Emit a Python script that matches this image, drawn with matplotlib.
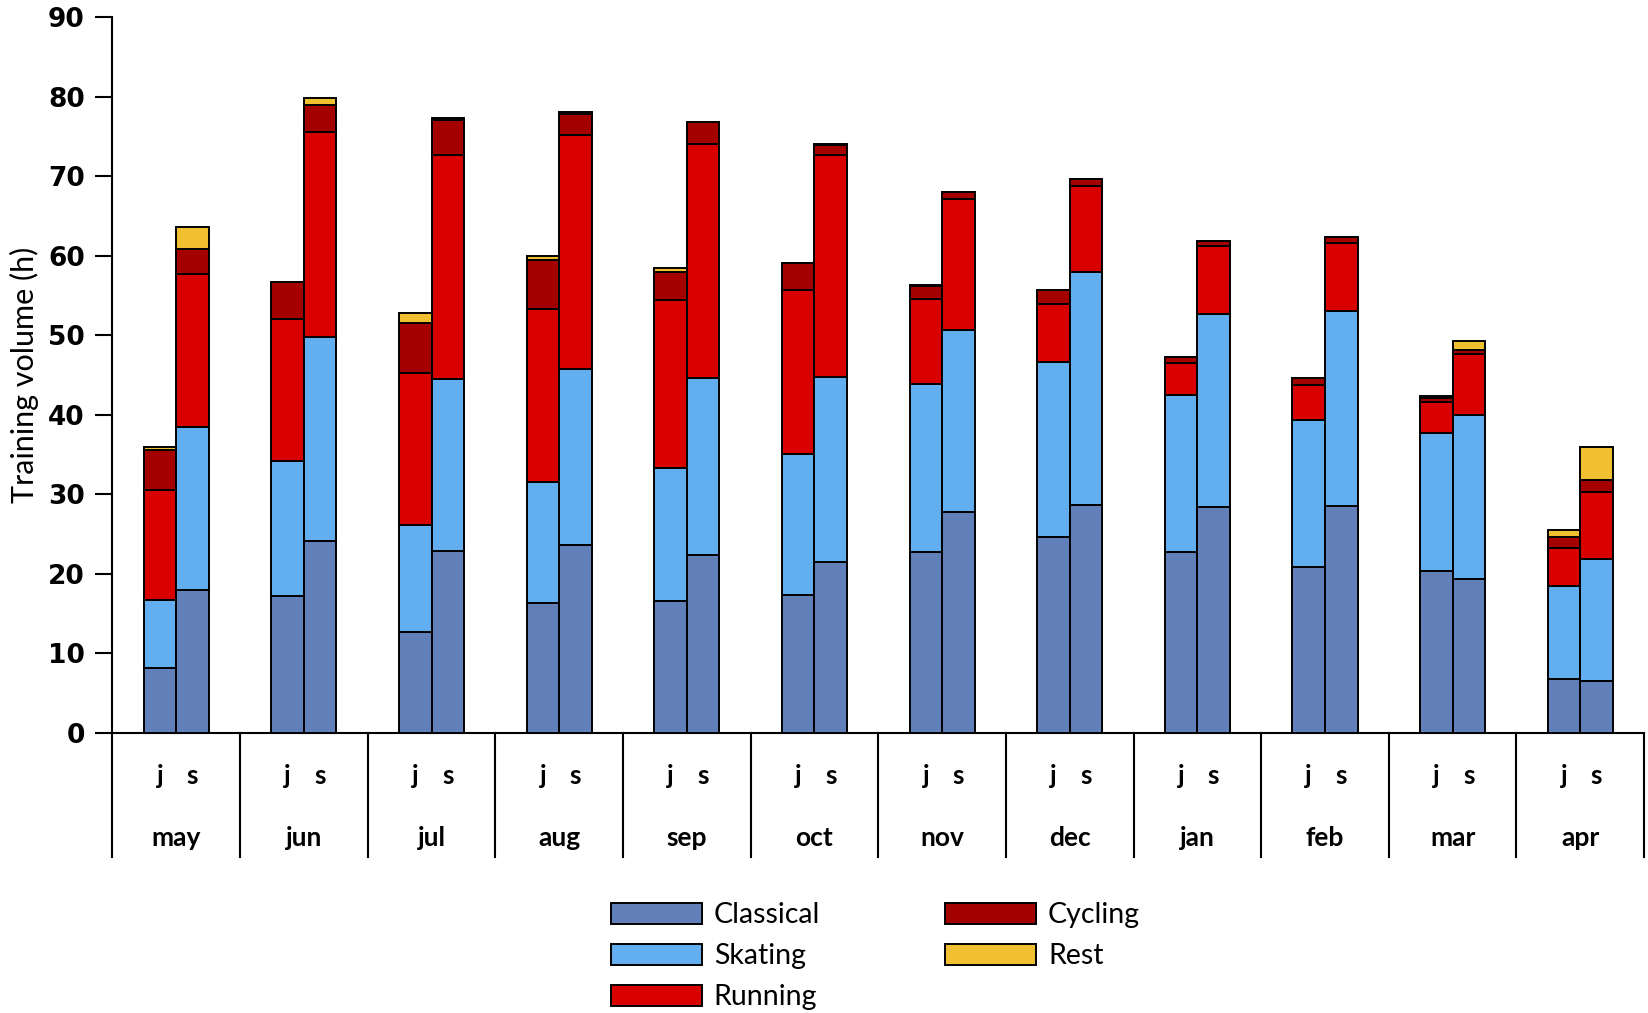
import numpy as np
import matplotlib
matplotlib.use('Agg')
import matplotlib.pyplot as plt
from matplotlib.patches import Patch

plt.rcParams['font.family'] = ['Lato', 'DejaVu Sans']

# ------------------------------------------------------------
# data (hours), j / s per month
# ------------------------------------------------------------
months = ['may', 'jun', 'jul', 'aug', 'sep', 'oct', 'nov', 'dec', 'jan', 'feb', 'mar', 'apr']
groups = ['j', 's']
categories = ['Classical', 'Skating', 'Running', 'Cycling', 'Rest']

classical_j = [8.2, 17.2, 12.7, 16.4, 16.6, 17.4, 22.8, 24.6, 22.75, 20.9, 20.35, 6.8]
skating_j = [8.5, 17.0, 13.4, 15.1, 16.7, 17.7, 21.1, 22.0, 19.8, 18.5, 17.35, 11.7]
running_j = [13.8, 17.9, 19.1, 21.8, 21.1, 20.6, 10.7, 7.3, 4.0, 4.3, 3.9, 4.7]
cycling_j = [5.1, 4.55, 6.4, 6.1, 3.6, 3.4, 1.65, 1.8, 0.75, 0.95, 0.45, 1.45]
rest_j = [0.35, 0.1, 1.2, 0.6, 0.4, 0.0, 0.1, 0.0, 0.0, 0.0, 0.35, 0.9]

classical_s = [18.0, 24.1, 22.9, 23.6, 22.35, 21.5, 27.75, 28.7, 28.4, 28.55, 19.3, 6.6]
skating_s = [20.5, 25.7, 21.6, 22.2, 22.3, 23.3, 22.9, 29.2, 24.3, 24.5, 20.7, 15.25]
running_s = [19.2, 25.7, 28.1, 29.4, 29.4, 27.9, 16.45, 10.8, 8.55, 8.5, 7.7, 8.4]
cycling_s = [3.2, 3.5, 4.4, 2.6, 2.7, 1.2, 0.9, 1.0, 0.6, 0.8, 0.4, 1.55]
rest_s = [2.7, 0.8, 0.3, 0.25, 0.1, 0.1, 0.0, 0.0, 0.0, 0.0, 1.2, 4.2]

colors = ['#6180BA', '#63AEEE', '#D90000', '#A50000', '#F0C030']

series_j = [classical_j, skating_j, running_j, cycling_j, rest_j]
series_s = [classical_s, skating_s, running_s, cycling_s, rest_s]

# ------------------------------------------------------------
# figure
# ------------------------------------------------------------
fig = plt.figure(figsize=(16.49, 10.13), dpi=100)
ax = fig.add_axes([0.0682, 0.2764, 0.9288, 0.7068])

x = np.arange(len(months))
w = 0.255
for offs, series in [(-w / 2, series_j), (w / 2, series_s)]:
    bottom = np.zeros(len(months))
    for vals, col in zip(series, colors):
        vals = np.array(vals)
        ax.bar(x + offs, vals, w, bottom=bottom, color=col,
               edgecolor='black', linewidth=1.4, zorder=3)
        bottom += vals

ax.set_xlim(-0.5, len(months) - 0.5)
ax.set_ylim(0, 90)
ax.set_yticks(np.arange(0, 91, 10))
ax.tick_params(axis='y', direction='out', length=12, width=1.5, pad=8,
               labelsize=19)
for lb in ax.get_yticklabels():
    lb.set_fontweight('bold')
    lb.set_family('DejaVu Sans')
ax.set_xticks([])
ax.spines['top'].set_visible(False)
ax.spines['right'].set_visible(False)
ax.spines['left'].set_linewidth(1.5)
ax.spines['bottom'].set_linewidth(1.5)
ax.set_ylabel('Training volume (h)', fontsize=22, labelpad=6)

# two-level category axis
tr = ax.get_xaxis_transform()
for b in np.arange(-0.5, len(months), 1.0):
    ax.plot([b, b], [0, -0.173], color='black', lw=1.5, transform=tr,
            clip_on=False)
for i, m in enumerate(months):
    ax.text(i - w / 2, -0.060, groups[0], transform=tr, ha='center', va='center',
            fontsize=19, fontweight='bold')
    ax.text(i + w / 2, -0.060, groups[1], transform=tr, ha='center', va='center',
            fontsize=19, fontweight='bold')
    ax.text(i, -0.147, m, transform=tr, ha='center', va='center',
            fontsize=19, fontweight='bold')

handles = [Patch(facecolor=c, edgecolor='black', linewidth=1.4) for c in colors]
fig.legend(handles, categories, ncol=2, loc='center', bbox_to_anchor=(0.531, 0.056),
           frameon=False, fontsize=20.5, handlelength=3.2, handleheight=0.75,
           handletextpad=0.4, labelspacing=0.52, columnspacing=4.4)

fig.savefig('out.png', dpi=100)
